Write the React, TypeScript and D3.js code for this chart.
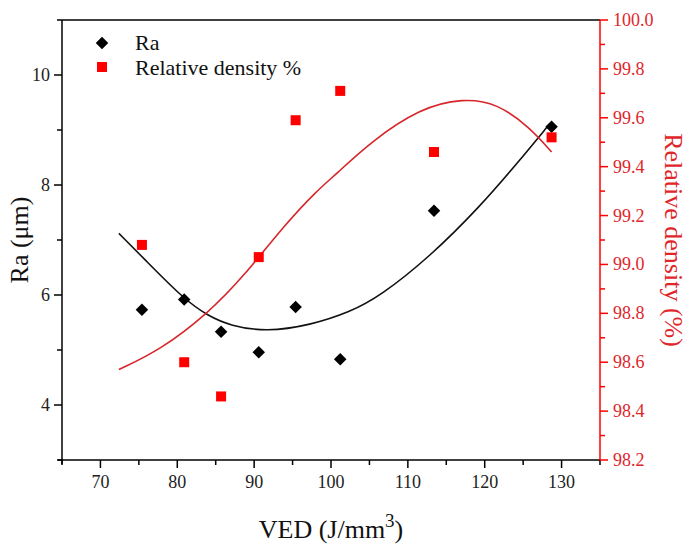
import { useEffect, useRef } from 'react';
import * as d3 from 'd3';

// measured points: VED vs Ra and relative density
const ved = [75.4, 80.9, 85.7, 90.6, 95.4, 101.2, 113.4, 128.7];
const ra = [5.73, 5.92, 5.33, 4.96, 5.78, 4.83, 7.53, 9.06];
const density = [99.08, 98.6, 98.46, 99.03, 99.59, 99.71, 99.46, 99.52];

// fitted curves, sampled off the figure
const raFitX = [72.4, 75.6, 80.9, 84.0, 86.9, 91.6, 97.3, 102.5, 106.4, 112.9, 119.4, 124.2, 128.5];
const raFitY = [7.12, 6.67, 5.92, 5.62, 5.44, 5.33, 5.45, 5.69, 5.98, 6.7, 7.61, 8.39, 9.12];
const denFitX = [72.4, 77.8, 84.0, 88.6, 94.2, 98.1, 100.7, 105.1, 111.6, 117.2, 121.6, 125.9, 128.7];
const denFitY = [98.57, 98.65, 98.8, 98.95, 99.17, 99.3, 99.37, 99.5, 99.64, 99.68, 99.66, 99.56, 99.46];

const raTicks = [4, 6, 8, 10];
const densityTicks = [98.2, 98.4, 98.6, 98.8, 99.0, 99.2, 99.4, 99.6, 99.8, 100.0];
const vedTicks = [70, 80, 90, 100, 110, 120, 130];

const W = 696;
const H = 551;
const margin = { top: 20, right: 96, bottom: 91, left: 62 };

export default function App() {
    const svgRef = useRef<SVGSVGElement | null>(null);

    useEffect(() => {
        const svg = d3.select(svgRef.current);
        svg.selectAll('*').remove();

        const x0 = margin.left;
        const x1 = W - margin.right;
        const y0 = H - margin.bottom;
        const y1 = margin.top;

        const x = d3.scaleLinear().domain([65, 135]).range([x0, x1]);
        const yL = d3.scaleLinear().domain([3, 11]).range([y0, y1]);
        const yR = d3.scaleLinear().domain([98.2, 100]).range([y0, y1]);

        const font = "'Liberation Serif', 'Times New Roman', Tinos, 'DejaVu Serif', 'Noto Serif', serif";
        const red = '#ff0000';
        const redText = '#e0262b';

        // top frame line
        svg.append('line')
            .attr('x1', x0).attr('x2', x1).attr('y1', y1).attr('y2', y1)
            .attr('stroke', '#000').attr('stroke-width', 1.5);

        // bottom axis
        const gx = svg.append('g').attr('transform', `translate(0,${y0})`);
        gx.append('line').attr('x1', x0 - 4).attr('x2', x1).attr('stroke', '#000').attr('stroke-width', 1.5);
        gx.selectAll('.t')
            .data(d3.range(65, 136, 5))
            .join('line')
            .attr('x1', (d) => x(d)).attr('x2', (d) => x(d))
            .attr('y1', 0).attr('y2', (d) => (d % 10 === 0 ? 8 : 5))
            .attr('stroke', '#000').attr('stroke-width', 1.5);
        gx.selectAll('.lbl')
            .data(vedTicks)
            .join('text')
            .attr('x', (d) => x(d)).attr('y', 28)
            .attr('text-anchor', 'middle')
            .style('font-family', font).attr('font-size', 18).attr('fill', '#222')
            .text((d) => d);

        // left axis
        const gl = svg.append('g').attr('transform', `translate(${x0},0)`);
        gl.append('line').attr('y1', y0 + 4).attr('y2', y1).attr('stroke', '#000').attr('stroke-width', 1.5);
        gl.selectAll('.t')
            .data(d3.range(3, 11.01, 1))
            .join('line')
            .attr('y1', (d) => yL(d)).attr('y2', (d) => yL(d))
            .attr('x1', 0).attr('x2', (d) => (d % 2 === 0 ? -8 : -5))
            .attr('stroke', '#000').attr('stroke-width', 1.5);
        gl.selectAll('.lbl')
            .data(raTicks)
            .join('text')
            .attr('x', -12).attr('y', (d) => yL(d) + 6)
            .attr('text-anchor', 'end')
            .style('font-family', font).attr('font-size', 18).attr('fill', '#222')
            .text((d) => d);

        // right axis (red)
        const gr = svg.append('g').attr('transform', `translate(${x1},0)`);
        gr.append('line').attr('y1', y0).attr('y2', y1).attr('stroke', red).attr('stroke-width', 1.5);
        gr.selectAll('.t')
            .data(d3.range(0, 19))
            .join('line')
            .attr('y1', (d) => yR(98.2 + d * 0.1)).attr('y2', (d) => yR(98.2 + d * 0.1))
            .attr('x1', 0).attr('x2', (d) => (d % 2 === 0 ? 8 : 5))
            .attr('stroke', red).attr('stroke-width', 1.5);
        gr.selectAll('.lbl')
            .data(densityTicks)
            .join('text')
            .attr('x', 13).attr('y', (d) => yR(d) + 6)
            .style('font-family', font).attr('font-size', 18).attr('fill', redText)
            .text((d) => d.toFixed(1));

        // fitted curves
        const raLine = d3.line<number>()
            .x((d) => x(d))
            .y((d, i) => yL(raFitY[i]))
            .curve(d3.curveBasis);
        const denLine = d3.line<number>()
            .x((d) => x(d))
            .y((d, i) => yR(denFitY[i]))
            .curve(d3.curveBasis);
        svg.append('path')
            .attr('d', raLine(raFitX))
            .attr('fill', 'none').attr('stroke', '#111').attr('stroke-width', 1.6);
        svg.append('path')
            .attr('d', denLine(denFitX))
            .attr('fill', 'none').attr('stroke', '#d6262b').attr('stroke-width', 1.6);

        // markers
        const diamond = d3.symbol().type(d3.symbolDiamond2).size(100);
        svg.selectAll('.ra')
            .data(ved)
            .join('path')
            .attr('d', diamond)
            .attr('transform', (d, i) => `translate(${x(d)},${yL(ra[i])})`)
            .attr('fill', '#000');
        svg.selectAll('.den')
            .data(ved)
            .join('rect')
            .attr('x', (d) => x(d) - 5).attr('y', (d, i) => yR(density[i]) - 5)
            .attr('width', 10).attr('height', 10)
            .attr('fill', red);

        // legend
        svg.append('path').attr('d', diamond).attr('transform', 'translate(102,43)').attr('fill', '#000');
        svg.append('rect').attr('x', 97).attr('y', 62).attr('width', 10).attr('height', 10).attr('fill', red);
        svg.append('text').attr('x', 135).attr('y', 50)
            .style('font-family', font).attr('font-size', 22).attr('fill', '#111').text('Ra');
        svg.append('text').attr('x', 135).attr('y', 75)
            .style('font-family', font).attr('font-size', 22).attr('fill', '#111').text('Relative density %');

        // axis titles
        const xt = svg.append('text').attr('x', (x0 + x1) / 2).attr('y', 538)
            .attr('text-anchor', 'middle')
            .style('font-family', font).attr('font-size', 26).attr('fill', '#111');
        xt.append('tspan').text('VED (J/mm');
        xt.append('tspan').attr('dy', -11).attr('font-size', 19).text('3');
        xt.append('tspan').attr('dy', 11).text(')');

        svg.append('text')
            .attr('transform', `translate(28,${(y0 + y1) / 2}) rotate(-90)`)
            .attr('text-anchor', 'middle')
            .style('font-family', font).attr('font-size', 26).attr('fill', '#111')
            .text('Ra (μm)');
        svg.append('text')
            .attr('transform', `translate(665,${(y0 + y1) / 2}) rotate(90)`)
            .attr('text-anchor', 'middle')
            .style('font-family', font).attr('font-size', 26).attr('fill', redText)
            .text('Relative density (%)');
    }, []);

    return (
        <svg
            ref={svgRef}
            width={W}
            height={H}
            style={{ position: 'absolute', left: 0, top: 0, background: '#fff' }}
        />
    );
}
